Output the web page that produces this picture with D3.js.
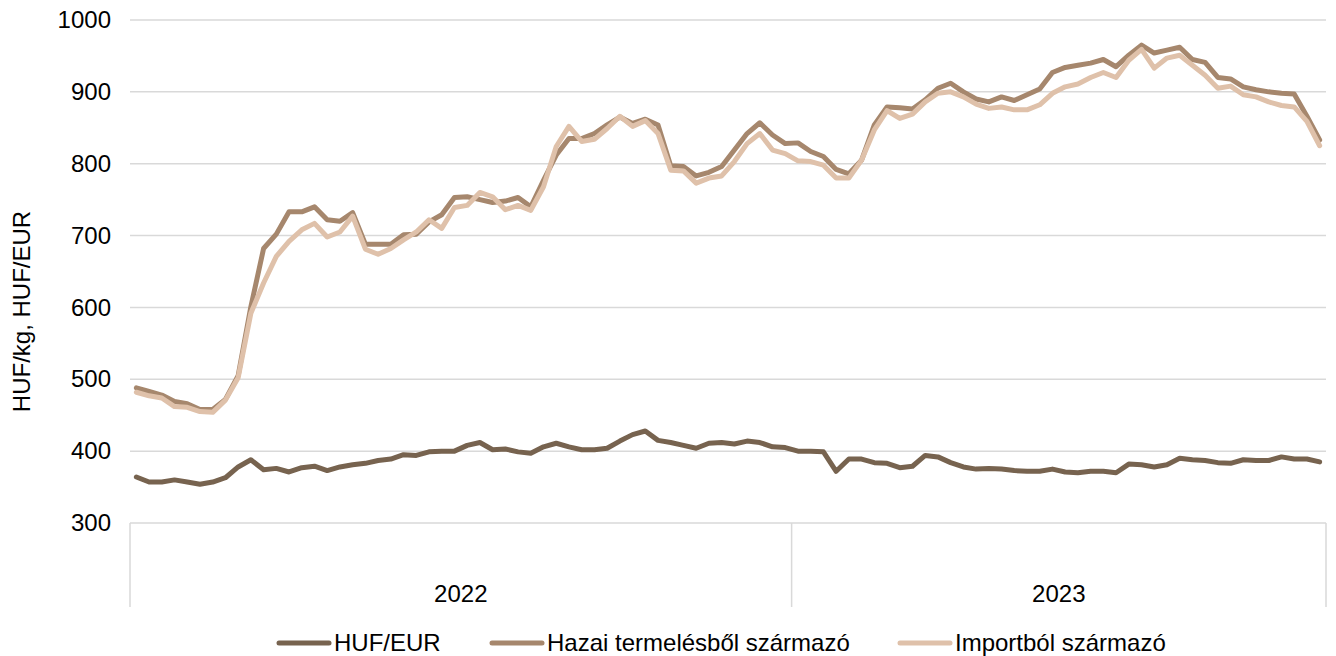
<!DOCTYPE html>
<html>
<head>
<meta charset="utf-8">
<script src="https://cdn.jsdelivr.net/npm/d3@7"></script>
<style>
	body { margin: 0; background: #fff; }
	text { font-family: 'Liberation Sans', Arial, sans-serif; fill: #000; }
</style>
</head>
<body>
<div id="app"></div>
<script>

// years on the category axis and how many weeks each one holds
var years = ['2022', '2023']
var weeksPerYear = [52, 42]

var yTicks = [300, 400, 500, 600, 700, 800, 900, 1000]

var seriesNames = ['HUF/EUR', 'Hazai termelésből származó', 'Importból származó']

// weekly values
var hufEur = [
	364, 357, 357, 360, 357, 354, 357, 363, 378, 388, 374, 376, 371, 377, 379, 373, 378, 381,
	383, 387, 389, 395, 394, 399, 400, 400, 408, 412, 402, 403, 399, 397, 406, 411, 406, 402,
	402, 404, 414, 423, 428, 415, 412, 408, 404, 411, 412, 410, 414, 412, 406, 405,
	400, 400, 399, 372, 389, 389, 384, 383, 377, 379, 394, 392, 384, 378, 375, 376, 375, 373,
	372, 372, 375, 371, 370, 372, 372, 370, 382, 381, 378, 381, 390, 388, 387, 384, 383, 388,
	387, 387, 392, 389, 389, 385
]

var hazai = [
	488, 483, 478, 469, 466, 458, 458, 472, 505, 601, 682, 702, 733, 733, 740, 722, 720, 732,
	688, 688, 688, 701, 702, 719, 729, 753, 754, 750, 746, 748, 753, 740, 777, 812, 835, 835,
	842, 854, 865, 856, 862, 854, 797, 796, 783, 788, 796, 819, 842, 857, 840, 828,
	829, 817, 810, 792, 786, 805, 854, 879, 878, 876, 889, 905, 912, 900, 890, 886, 893, 888,
	896, 904, 927, 934, 937, 940, 945, 935, 951, 965, 954, 958, 962, 945, 941, 920, 918, 907,
	903, 900, 898, 897, 866, 833
]

var importbol = [
	482, 477, 474, 462, 461, 455, 454, 471, 502, 592, 634, 671, 692, 708, 717, 698, 705, 727,
	681, 674, 682, 694, 705, 722, 710, 739, 742, 760, 754, 736, 742, 735, 768, 824, 852, 831,
	834, 849, 866, 852, 860, 842, 791, 790, 773, 780, 783, 803, 828, 842, 819, 814,
	804, 803, 798, 780, 780, 805, 847, 874, 863, 869, 886, 898, 900, 893, 883, 877, 879, 875,
	875, 882, 898, 907, 911, 920, 927, 920, 944, 959, 933, 947, 951, 937, 923, 905, 908, 896,
	893, 886, 881, 879, 859, 825
]

var colors = ['#77634f', '#a6876d', '#dfc1aa']

var width = 1336
var height = 656
var plotLeft = 130
var plotRight = 1326
var plotTop = 20
var plotBottom = 523

// one category per week, tagged with its year
var weeks = []
years.forEach(function(yr, k) {
	for (var w = 1; w <= weeksPerYear[k]; w++) weeks.push(yr + '-' + w)
})

var svg = d3.select('#app')
	.append('svg')
	  .attr('width', width)
	  .attr('height', height)

var x = d3.scaleBand()
	.domain(weeks)
	.range([plotLeft, plotRight])

var y = d3.scaleLinear()
	.domain([300, 1000])
	.range([plotBottom, plotTop])

function cx(i) {
	return x(weeks[i]) + x.bandwidth() / 2
}

// horizontal grid lines
svg.append('g')
	.selectAll('line')
	.data(yTicks)
  .enter()
	.append('line')
	.attr('x1', plotLeft)
	.attr('x2', plotRight)
	.attr('y1', function(d) { return y(d) })
	.attr('y2', function(d) { return y(d) })
	.attr('stroke', '#d9d9d9')
	.attr('stroke-width', 1.5)

// y axis labels
var yAxis = svg.append('g')
	.attr('transform', 'translate(' + (plotLeft - 19) + ',0)')
	.call(d3.axisLeft(y).tickValues(yTicks).tickFormat(d3.format('d')).tickSize(0).tickPadding(0))

yAxis.select('.domain').remove()
yAxis.selectAll('text')
	.style('font-size', '24px')
	.style('font-family', "'Liberation Sans', Arial, sans-serif")
	.attr('fill', '#000')

svg.append('text')
	.attr('transform', 'translate(30,' + ((plotTop + plotBottom) / 2 + 40) + ') rotate(-90)')
	.attr('text-anchor', 'middle')
	.style('font-size', '24px')
	.text('HUF/kg, HUF/EUR')

// year boundaries on the category axis
var bounds = [x(weeks[0])]
var pos = 0
weeksPerYear.forEach(function(n) {
	pos += n
	bounds.push(pos < weeks.length ? x(weeks[pos]) : plotRight)
})

svg.append('g')
	.selectAll('line')
	.data(bounds)
  .enter()
	.append('line')
	.attr('x1', function(d) { return d })
	.attr('x2', function(d) { return d })
	.attr('y1', plotBottom)
	.attr('y2', 607)
	.attr('stroke', '#d9d9d9')
	.attr('stroke-width', 1.5)

svg.append('g')
	.selectAll('text')
	.data(years)
  .enter()
	.append('text')
	.attr('x', function(d, i) { return (bounds[i] + bounds[i + 1]) / 2 })
	.attr('y', 602)
	.attr('text-anchor', 'middle')
	.style('font-size', '24px')
	.text(function(d) { return d })

// the three series
var line = d3.line()
	.x(function(d, i) { return cx(i) })
	.y(function(d) { return y(d) })

var allSeries = [hufEur, hazai, importbol]

svg.append('g')
	.selectAll('path')
	.data(allSeries)
  .enter()
	.append('path')
	.attr('d', line)
	.attr('fill', 'none')
	.attr('stroke', function(d, i) { return colors[i] })
	.attr('stroke-width', 5)
	.attr('stroke-linejoin', 'round')
	.attr('stroke-linecap', 'round')

// legend
var legendX = [279, 492, 900]
var legend = svg.append('g')
	.selectAll('g')
	.data(seriesNames)
  .enter()
	.append('g')
	.attr('transform', function(d, i) { return 'translate(' + legendX[i] + ',643)' })

legend.append('line')
	.attr('x1', 0)
	.attr('x2', 50)
	.attr('stroke', function(d, i) { return colors[i] })
	.attr('stroke-width', 5)
	.attr('stroke-linecap', 'round')

legend.append('text')
	.attr('x', 55)
	.attr('y', 8)
	.style('font-size', '24px')
	.text(function(d) { return d })

</script>
</body>
</html>
